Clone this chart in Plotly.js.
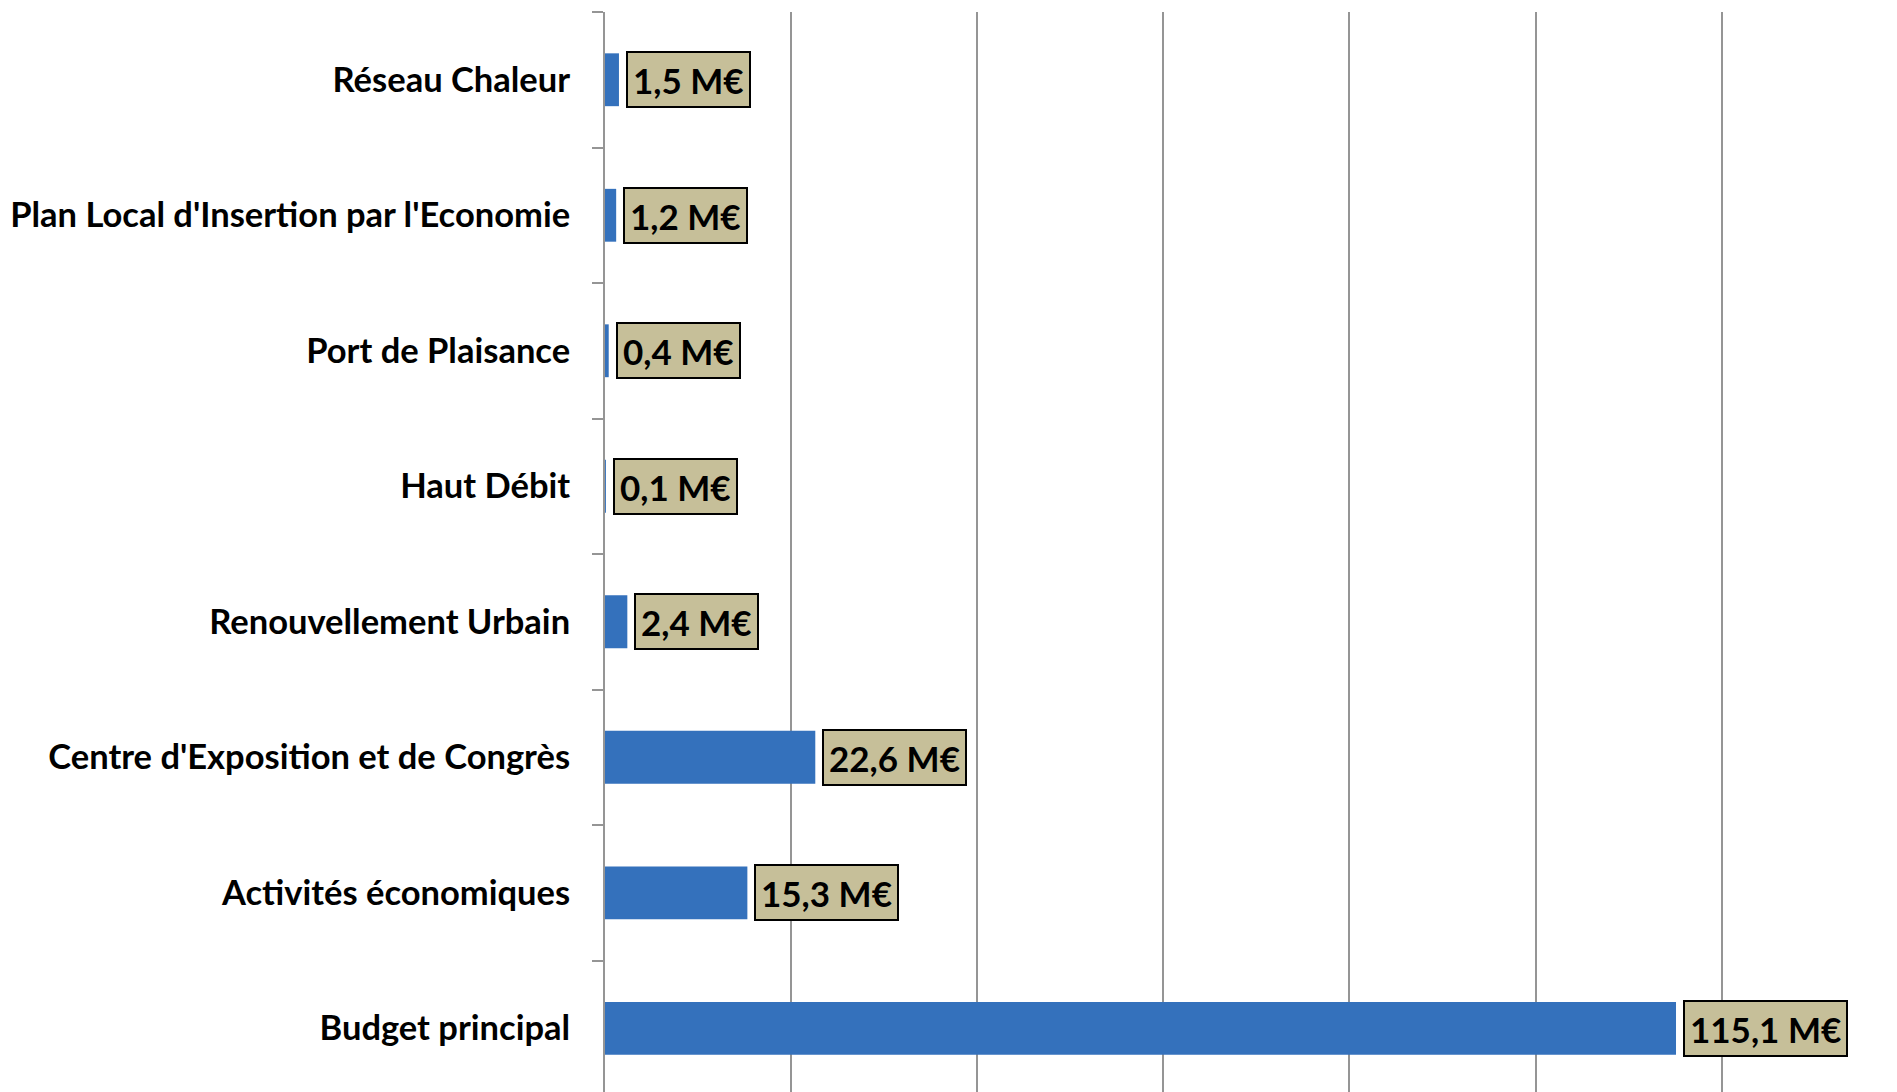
<!DOCTYPE html>
<html>
<head>
<meta charset="utf-8">
<script src="https://cdn.plot.ly/plotly-3.0.1.min.js"></script>
<style>html,body{margin:0;padding:0;background:#fff;}#chart{width:1897px;height:1092px;}</style>
</head>
<body>
<div id="chart"></div>
<script>
// Data (bottom to top)
const categories = [
  "Budget principal",
  "Activités économiques",
  "Centre d'Exposition et de Congrès",
  "Renouvellement Urbain",
  "Haut Débit",
  "Port de Plaisance",
  "Plan Local d'Insertion par l'Economie",
  "Réseau Chaleur"
];
const values = [115.1, 15.3, 22.6, 2.4, 0.1, 0.4, 1.2, 1.5];
const unit = " M€";

const FONT = "Lato, 'Open Sans', sans-serif";

function fmt(v) { return v.toFixed(1).replace('.', ',') + unit; }

const trace = {
  type: 'bar',
  orientation: 'h',
  x: values,
  y: categories,
  marker: { color: '#3471BC', line: { width: 0 } },
  hoverinfo: 'skip'
};

const annotations = values.map((v, i) => ({
  x: v, y: categories[i], xref: 'x', yref: 'y',
  text: fmt(v), showarrow: false,
  xanchor: 'left', yanchor: 'middle', xshift: 7,
  bgcolor: '#C6BF99', bordercolor: '#000000', borderwidth: 2, borderpad: 5,
  height: 43,
  font: { family: FONT, size: 35, color: '#000000', weight: 'bold' }
}));

const layout = {
  width: 1897, height: 1092,
  margin: { l: 605, r: 0, t: 12, b: 0 },
  paper_bgcolor: '#ffffff', plot_bgcolor: '#ffffff',
  showlegend: false,
  bargap: 0.61,
  xaxis: {
    range: [0, 138.85], dtick: 20, tick0: 0,
    showgrid: true, gridcolor: '#959595', gridwidth: 2,
    zeroline: false, showticklabels: false, ticks: '', showline: false
  },
  yaxis: {
    type: 'category',
    categoryorder: 'array', categoryarray: categories,
    range: [-0.47, 7.5],
    showgrid: false, zeroline: false,
    showline: true, linecolor: '#959595', linewidth: 2,
    ticks: 'outside', tickson: 'boundaries', ticklen: 11, tickcolor: '#959595', tickwidth: 2,
    ticklabelstandoff: 26,
    tickfont: { family: FONT, size: 34.5, color: '#000000', weight: 'bold' }
  },
  annotations: annotations
};

Plotly.newPlot('chart', [trace], layout, { displayModeBar: false, staticPlot: true });
</script>
</body>
</html>
